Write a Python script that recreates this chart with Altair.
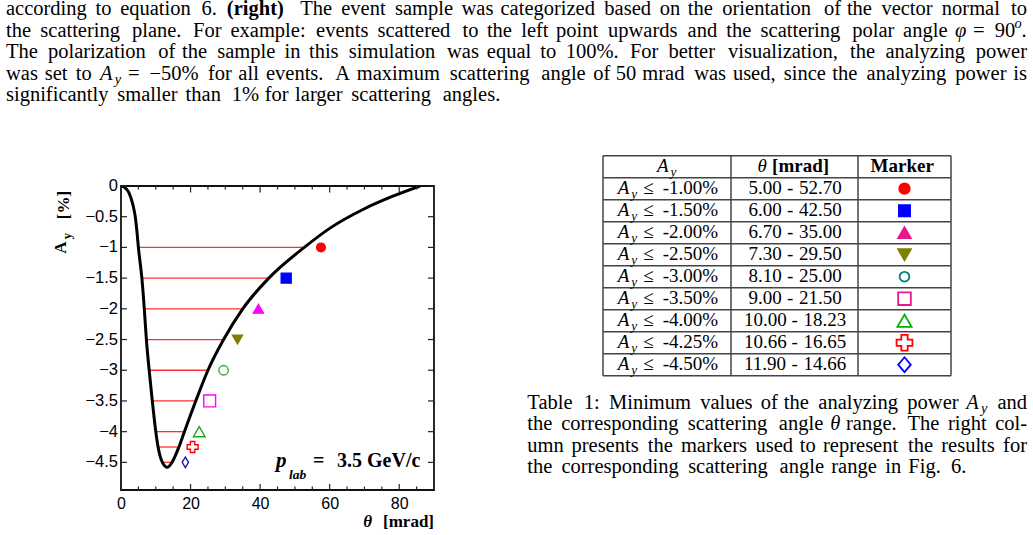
import altair as alt
import pandas as pd

# ---------------------------------------------------------------------------
# Data
# ---------------------------------------------------------------------------
# Analyzing power A_y [%] versus scattering angle theta [mrad], p_lab = 3.5 GeV/c
curve_theta = [0.0, 1.0, 2.2, 3.4, 4.1, 4.6, 5.0, 6.0, 6.7, 7.3, 8.1, 9.0, 10.0,
               10.66, 11.9, 13.3, 14.66, 16.65, 18.23, 21.5, 25.0, 29.5, 35.0,
               42.5, 52.7, 60.0, 70.0, 78.0, 86.0]
curve_ay = [0.0, -0.02, -0.1, -0.3, -0.5, -0.75, -1.0, -1.5, -2.0, -2.5, -3.0,
            -3.5, -4.0, -4.25, -4.5, -4.58, -4.5, -4.25, -4.0, -3.5, -3.0, -2.5,
            -2.0, -1.5, -1.0, -0.69, -0.37, -0.17, 0.0]

# Table 1: minimum A_y and the corresponding theta range
ay_levels = [-1.00, -1.50, -2.00, -2.50, -3.00, -3.50, -4.00, -4.25, -4.50]
theta_min = [5.00, 6.00, 6.70, 7.30, 8.10, 9.00, 10.00, 10.66, 11.90]
theta_max = [52.70, 42.50, 35.00, 29.50, 25.00, 21.50, 18.23, 16.65, 14.66]

# marker placed next to each range in the figure
marker_theta = [57.5, 47.5, 39.5, 33.5, 29.5, 25.5, 22.5, 20.6, 18.5]

DIAMOND = "M0,-1L0.6,0L0,1L-0.6,0Z"
TALL_DIAMOND = "M0,-1L0.85,0L0,1L-0.85,0Z"
marker_shape = ["circle", "square", "triangle-up", "triangle-down", "circle",
                "square", "triangle-up", "cross", DIAMOND]
marker_filled = [True, True, True, True, False, False, False, False, False]
plot_colors = ["#ff0000", "#0000ff", "#ff00ff", "#808000", "#33aa33",
               "#ff00ff", "#22a022", "#ff0000", "#1c1ca8"]
table_colors = ["#ff0000", "#0000ff", "#e6188c", "#7f7f00", "#008080",
                "#e6188c", "#00b000", "#ff0000", "#0000ff"]

x_major = [0, 20, 40, 60, 80]
x_minor = [5, 10, 15, 25, 30, 35, 45, 50, 55, 65, 70, 75, 85]
y_major = [0, -0.5, -1, -1.5, -2, -2.5, -3, -3.5, -4, -4.5]
y_labels = ["0", "−0.5", "−1", "−1.5", "−2", "−2.5", "−3", "−3.5", "−4", "−4.5"]

# ---------------------------------------------------------------------------
# Page geometry
# ---------------------------------------------------------------------------
PAGE_W, PAGE_H = 1033, 535
OX, OY = 121, 186          # top-left corner of the plot frame on the page
W, H = 313, 304            # plot frame size

SERIF = "Liberation Serif"
SANS = "Liberation Sans"
BODY_EM, BODY = 19.8, 20.5     # typeset em width and rendered size, running text
TABLE_EM, TABLE = 18.2, 19.0   # same for the table cells

# ---------------------------------------------------------------------------
# A small line typesetter: advance widths (in em) of Computer Modern fonts
# ---------------------------------------------------------------------------
CMR = dict(zip("abcdefghijklmnopqrstuvwxyz",
               [.5, .556, .444, .556, .444, .306, .5, .556, .278, .306, .528, .278, .833,
                .556, .5, .556, .528, .392, .394, .389, .556, .528, .722, .528, .528, .444]))
CMR.update(zip("ABCDEFGHIJKLMNOPQRSTUVWXYZ",
               [.75, .708, .722, .764, .681, .653, .785, .75, .361, .514, .778, .625, .917,
                .75, .778, .681, .778, .736, .556, .722, .75, .75, 1.028, .75, .75, .611]))
CMR.update({d: .5 for d in "0123456789"})
CMR.update({".": .278, ",": .278, ":": .278, ";": .278, "(": .389, ")": .389,
            "-": .333, "%": .833, "=": .778, "−": .778, "/": .5, "[": .278, "]": .278,
            "≤": .778, " ": .333})
CMBX = {"(": .447, ")": .447, "r": .474, "i": .319, "g": .575, "h": .639, "t": .447,
        "[": .319, "]": .319, "m": .958, "a": .559, "d": .639, "M": 1.092, "k": .607,
        "e": .527}
CMMI = {"A": .75, "y": .49, "φ": .596, "θ": .469, "o": .485}


def piece_width(text, kind):
    if kind == "rm":
        return sum(CMR.get(c, .5) for c in text)
    if kind == "bf":
        return sum(CMBX.get(c, CMR.get(c, .5) * 1.15) for c in text)
    if kind == "it":
        return sum(CMMI.get(c, .5) for c in text)
    return 0.72 * sum(CMMI.get(c, .5) for c in text)      # sub / sup


def W_(s, kind="rm"):
    return {"pieces": [(s, kind)], "rel": False}


def M_(*pieces):
    return {"pieces": list(pieces), "rel": False}


def REL(sym):
    return {"pieces": [(sym, "rm")], "rel": True}


def tok(t):
    return t if isinstance(t, dict) else W_(t)


def glue(prev, nxt):
    """natural width, stretch, shrink (em) of the space between two words"""
    if prev["rel"] or nxt["rel"]:
        return .3, .278, 0.0
    last = prev["pieces"][-1][0][-1]
    if last in ".?!":
        return .444, .5, .037
    if last == ":":
        return .444, .333, .056
    if last == ",":
        return .333, .208, .089
    return .333, .167, .111


def set_line(tokens, x0, x1, mode, em):
    """Place every piece of a line; returns (text, kind, x, align)."""
    toks = [tok(t) for t in tokens]
    widths = [sum(piece_width(s, k) for s, k in t["pieces"]) for t in toks]
    glues = [glue(a, b) for a, b in zip(toks[:-1], toks[1:])]
    gaps = [g[0] for g in glues]
    natural = (sum(widths) + sum(gaps)) * em
    if mode == "justify":
        extra = (x1 - x0 - natural) / em
        pool = sum(g[1] for g in glues) if extra >= 0 else sum(g[2] for g in glues)
        gaps = [g[0] + (g[1] if extra >= 0 else g[2]) * extra / pool for g in glues]
    elif mode == "center":
        x0 = x0 - natural / 2
    out, x = [], x0
    for i, t in enumerate(toks):
        px = x
        for s, k in t["pieces"]:
            out.append((s, k, px, "left"))
            px += piece_width(s, k) * em
        x += widths[i] * em + (gaps[i] * em if i < len(gaps) else 0)
    if mode == "justify" and len(toks[-1]["pieces"]) == 1:
        s, k, _, _ = out[-1]
        out[-1] = (s, k, x1, "right")
    return out


def page_text(rows, font=SERIF, size=BODY, weight="normal", style="normal",
              align="left", baseline="alphabetic", angle=0, color="black"):
    df = pd.DataFrame([{"t": t, "x": x - OX, "y": y - OY} for t, x, y in rows])
    return alt.Chart(df).mark_text(
        font=font, fontSize=size, fontWeight=weight, fontStyle=style,
        align=align, baseline=baseline, angle=angle, color=color
    ).encode(
        x=alt.X("x:Q", scale=None, axis=None),
        y=alt.Y("y:Q", scale=None, axis=None),
        text="t:N",
    )


def typeset(lines, em, size):
    """lines: list of (tokens, x0, x1, mode, baseline) -> text layers"""
    groups = {}
    for tokens, x0, x1, mode, base in lines:
        for s, k, x, al in set_line(tokens, x0, x1, mode, em):
            y = base + (0.22 * em if k == "sub" else -0.42 * em if k == "sup" else 0)
            groups.setdefault((k, al), []).append((s, x, y))
    styles = {"rm": dict(), "bf": dict(weight="bold"), "it": dict(style="italic"),
              "sub": dict(style="italic", size=size * 0.7),
              "sup": dict(style="italic", size=size * 0.7)}
    layers = []
    for (k, al), rows in groups.items():
        st = dict(size=size)
        st.update(styles[k])
        layers.append(page_text(rows, align=al, **st))
    return layers


# ---------------------------------------------------------------------------
# Figure: A_y(theta)
# ---------------------------------------------------------------------------
x_scale = alt.Scale(domain=[0, 90], nice=False, zero=False)
y_scale = alt.Scale(domain=[-4.95, 0], nice=False, zero=False)

ranges_df = pd.DataFrame({"ay": ay_levels, "tmin": theta_min, "tmax": theta_max})
ranges = alt.Chart(ranges_df).mark_rule(color="#ff3030", strokeWidth=1.3).encode(
    x=alt.X("tmin:Q", scale=x_scale, axis=alt.Axis(
        values=x_major, title=None, labelFontSize=16, labelPadding=5, format="d")),
    x2="tmax:Q",
    y=alt.Y("ay:Q", scale=y_scale, axis=alt.Axis(labels=False, title=None)),
)

curve_df = pd.DataFrame({"theta": curve_theta, "ay": curve_ay})
curve = alt.Chart(curve_df).mark_line(
    color="black", strokeWidth=3, interpolate="monotone", clip=True
).encode(x="theta:Q", y="ay:Q")

plot_marker_size = [75, 100, 100, 100, 90, 140, 135, 120, 110]
markers_df = pd.DataFrame({
    "theta": marker_theta, "ay": ay_levels, "shape": marker_shape,
    "stroke": plot_colors,
    "fill": [c if f else "transparent" for c, f in zip(plot_colors, marker_filled)],
    "size": plot_marker_size,
})
markers = alt.Chart(markers_df).mark_point(opacity=1, strokeWidth=1.4).encode(
    x="theta:Q", y="ay:Q",
    shape=alt.Shape("shape:N", scale=None),
    stroke=alt.Stroke("stroke:N", scale=None),
    fill=alt.Fill("fill:N", scale=None),
    size=alt.Size("size:Q", scale=None),
)

# inward-pointing ticks on all four sides of the frame, and the A_y tick labels
tick_style = dict(color="#222", strokeWidth=1.2)
yt = pd.DataFrame({"v": y_major, "lab": y_labels})
xt_major = pd.DataFrame({"v": x_major})
xt_minor = pd.DataFrame({"v": x_minor})
ticks = [
    alt.Chart(yt).mark_rule(**tick_style).encode(y="v:Q", x=alt.value(0), x2=alt.value(6)),
    alt.Chart(yt).mark_rule(**tick_style).encode(y="v:Q", x=alt.value(W), x2=alt.value(W - 6)),
    alt.Chart(xt_major).mark_rule(**tick_style).encode(x="v:Q", y=alt.value(H), y2=alt.value(H - 6)),
    alt.Chart(xt_minor).mark_rule(**tick_style).encode(x="v:Q", y=alt.value(H), y2=alt.value(H - 3.5)),
    alt.Chart(xt_major).mark_rule(**tick_style).encode(x="v:Q", y=alt.value(0), y2=alt.value(6.5)),
    alt.Chart(xt_minor).mark_rule(**tick_style).encode(x="v:Q", y=alt.value(0), y2=alt.value(3.5)),
    alt.Chart(yt).mark_text(font=SANS, fontSize=16.5, align="right", baseline="middle",
                            dx=-3, color="black").encode(
        y="v:Q", x=alt.value(0), text="lab:N"),
]

figure_text = [
    # y-axis title  A_y [%]
    page_text([("A", 61, 247.5)], size=17, weight="bold", align="center",
              baseline="middle", angle=270),
    page_text([("y", 66.5, 236)], size=12.5, weight="bold", align="center",
              baseline="middle", angle=270),
    page_text([("[%]", 64, 205)], size=17, weight="bold", align="center",
              baseline="middle", angle=270),
    # x-axis title  theta [mrad]
    page_text([("θ", 372, 527)], size=17, weight="bold", style="italic", align="right"),
    page_text([("[mrad]", 434, 527)], size=17, weight="bold", align="right"),
    # p_lab = 3.5 GeV/c
    page_text([("p", 276, 467)], size=21, weight="bold", style="italic"),
    page_text([("lab", 289, 479)], size=13.5, weight="bold", style="italic"),
    page_text([("=", 313, 467), ("3.5 GeV/c", 337, 467)], size=20, weight="bold"),
]

# ---------------------------------------------------------------------------
# Table 1
# ---------------------------------------------------------------------------
T_LEFT, T_RIGHT, T_TOP, ROW_H = 603, 951, 155.7, 22
COL_X = [T_LEFT, 731, 858, T_RIGHT]
n_rows = len(ay_levels) + 1
T_BOTTOM = T_TOP + ROW_H * n_rows
col_mid = [(a + b) / 2 for a, b in zip(COL_X[:-1], COL_X[1:])]

hlines = pd.DataFrame({"x": T_LEFT - OX, "x2": T_RIGHT - OX,
                       "y": [T_TOP + ROW_H * k - OY for k in range(n_rows + 1)]})
vlines = pd.DataFrame({"x": [c - OX for c in COL_X], "y": T_TOP - OY, "y2": T_BOTTOM - OY})
rule_style = dict(color="#444", strokeWidth=1.5)
table_lines = [
    alt.Chart(hlines).mark_rule(**rule_style).encode(
        x=alt.X("x:Q", scale=None, axis=None), x2="x2:Q",
        y=alt.Y("y:Q", scale=None, axis=None)),
    alt.Chart(vlines).mark_rule(**rule_style).encode(
        x=alt.X("x:Q", scale=None, axis=None),
        y=alt.Y("y:Q", scale=None, axis=None), y2="y2:Q"),
]

A_Y = M_(("A", "it"), ("y", "sub"))
head_base = T_TOP + 16
table_rows = [
    ([A_Y], col_mid[0], None, "center", head_base),
    ([M_(("θ", "it")), W_("[mrad]", "bf")], col_mid[1], None, "center", head_base),
    ([W_("Marker", "bf")], col_mid[2], None, "center", head_base),
]
for i, (a, lo, hi) in enumerate(zip(ay_levels, theta_min, theta_max)):
    base = T_TOP + ROW_H * (i + 1) + 16
    table_rows.append(([A_Y, REL("≤"), f"{a:.2f}%"], col_mid[0], None, "center", base))
    table_rows.append(([f"{lo:.2f}", "-", f"{hi:.2f}"], col_mid[1], None, "center", base))
table_text = typeset(table_rows, TABLE_EM, TABLE)

table_marker_size = [110, 125, 160, 160, 95, 160, 200, 250, 220]
table_shape = [TALL_DIAMOND if s == DIAMOND else s for s in marker_shape]
tm_df = pd.DataFrame({
    "x": col_mid[2] - OX,
    "y": [T_TOP + ROW_H * (i + 1) + 11 - OY for i in range(len(ay_levels))],
    "shape": table_shape, "stroke": table_colors,
    "fill": [c if f else "white" for c, f in zip(table_colors, marker_filled)],
    "size": table_marker_size,
})
table_markers = alt.Chart(tm_df).mark_point(opacity=1, strokeWidth=1.8).encode(
    x=alt.X("x:Q", scale=None, axis=None), y=alt.Y("y:Q", scale=None, axis=None),
    shape=alt.Shape("shape:N", scale=None),
    stroke=alt.Stroke("stroke:N", scale=None),
    fill=alt.Fill("fill:N", scale=None),
    size=alt.Size("size:Q", scale=None),
)

# ---------------------------------------------------------------------------
# Running text and table caption
# ---------------------------------------------------------------------------
L = [15, 36.5, 58, 79.5, 101]
C = [408.5, 430, 451.7, 473.3]
TXT_L, TXT_R, CAP_L = 6, 1027, 527.3


def words(s):
    return s.split(" ")


paragraph = [
    (words("according to equation 6.") + [W_("(right)", "bf")]
     + words("The event sample was categorized based on the orientation of the vector normal to"),
     TXT_L, TXT_R, "justify", L[0]),
    (words("the scattering plane. For example: events scattered to the left point upwards and the scattering polar angle")
     + [M_(("φ", "it")), REL("="), M_(("90", "rm"), ("o", "sup"), (".", "rm"))],
     TXT_L, TXT_R, "justify", L[1]),
    (words("The polarization of the sample in this simulation was equal to 100%. For better visualization, the analyzing power"),
     TXT_L, TXT_R, "justify", L[2]),
    (words("was set to") + [A_Y, REL("="), M_(("−50%", "rm"))]
     + words("for all events. A maximum scattering angle of 50 mrad was used, since the analyzing power is"),
     TXT_L, TXT_R, "justify", L[3]),
    (words("significantly smaller than 1% for larger scattering angles."),
     TXT_L, None, "left", L[4]),
    (words("Table 1: Minimum values of the analyzing power") + [A_Y, "and"],
     CAP_L, TXT_R, "justify", C[0]),
    (words("the corresponding scattering angle") + [M_(("θ", "it"))] + words("range. The right col-"),
     CAP_L, TXT_R, "justify", C[1]),
    (words("umn presents the markers used to represent the results for"),
     CAP_L, TXT_R, "justify", C[2]),
    (words("the corresponding scattering angle range in Fig. 6."),
     CAP_L, None, "left", C[3]),
]
body_text = typeset(paragraph, BODY_EM, BODY)

chart = alt.layer(
    ranges, curve, markers, *ticks, *figure_text,
    *table_lines, *table_text, table_markers, *body_text,
).properties(
    width=W, height=H,
    padding={"left": OX, "top": OY, "right": PAGE_W - OX - W, "bottom": PAGE_H - OY - H},
    autosize=alt.AutoSizeParams(type="none"),
    background="white",
).configure_view(
    stroke="#111", strokeWidth=1.8
).configure_axis(
    ticks=False, domain=False, grid=False, labelOverlap=False, labelFlush=False,
    labelFont=SANS, labelColor="black",
)

chart.save("out.html", embed_options={"renderer": "svg", "actions": False})
